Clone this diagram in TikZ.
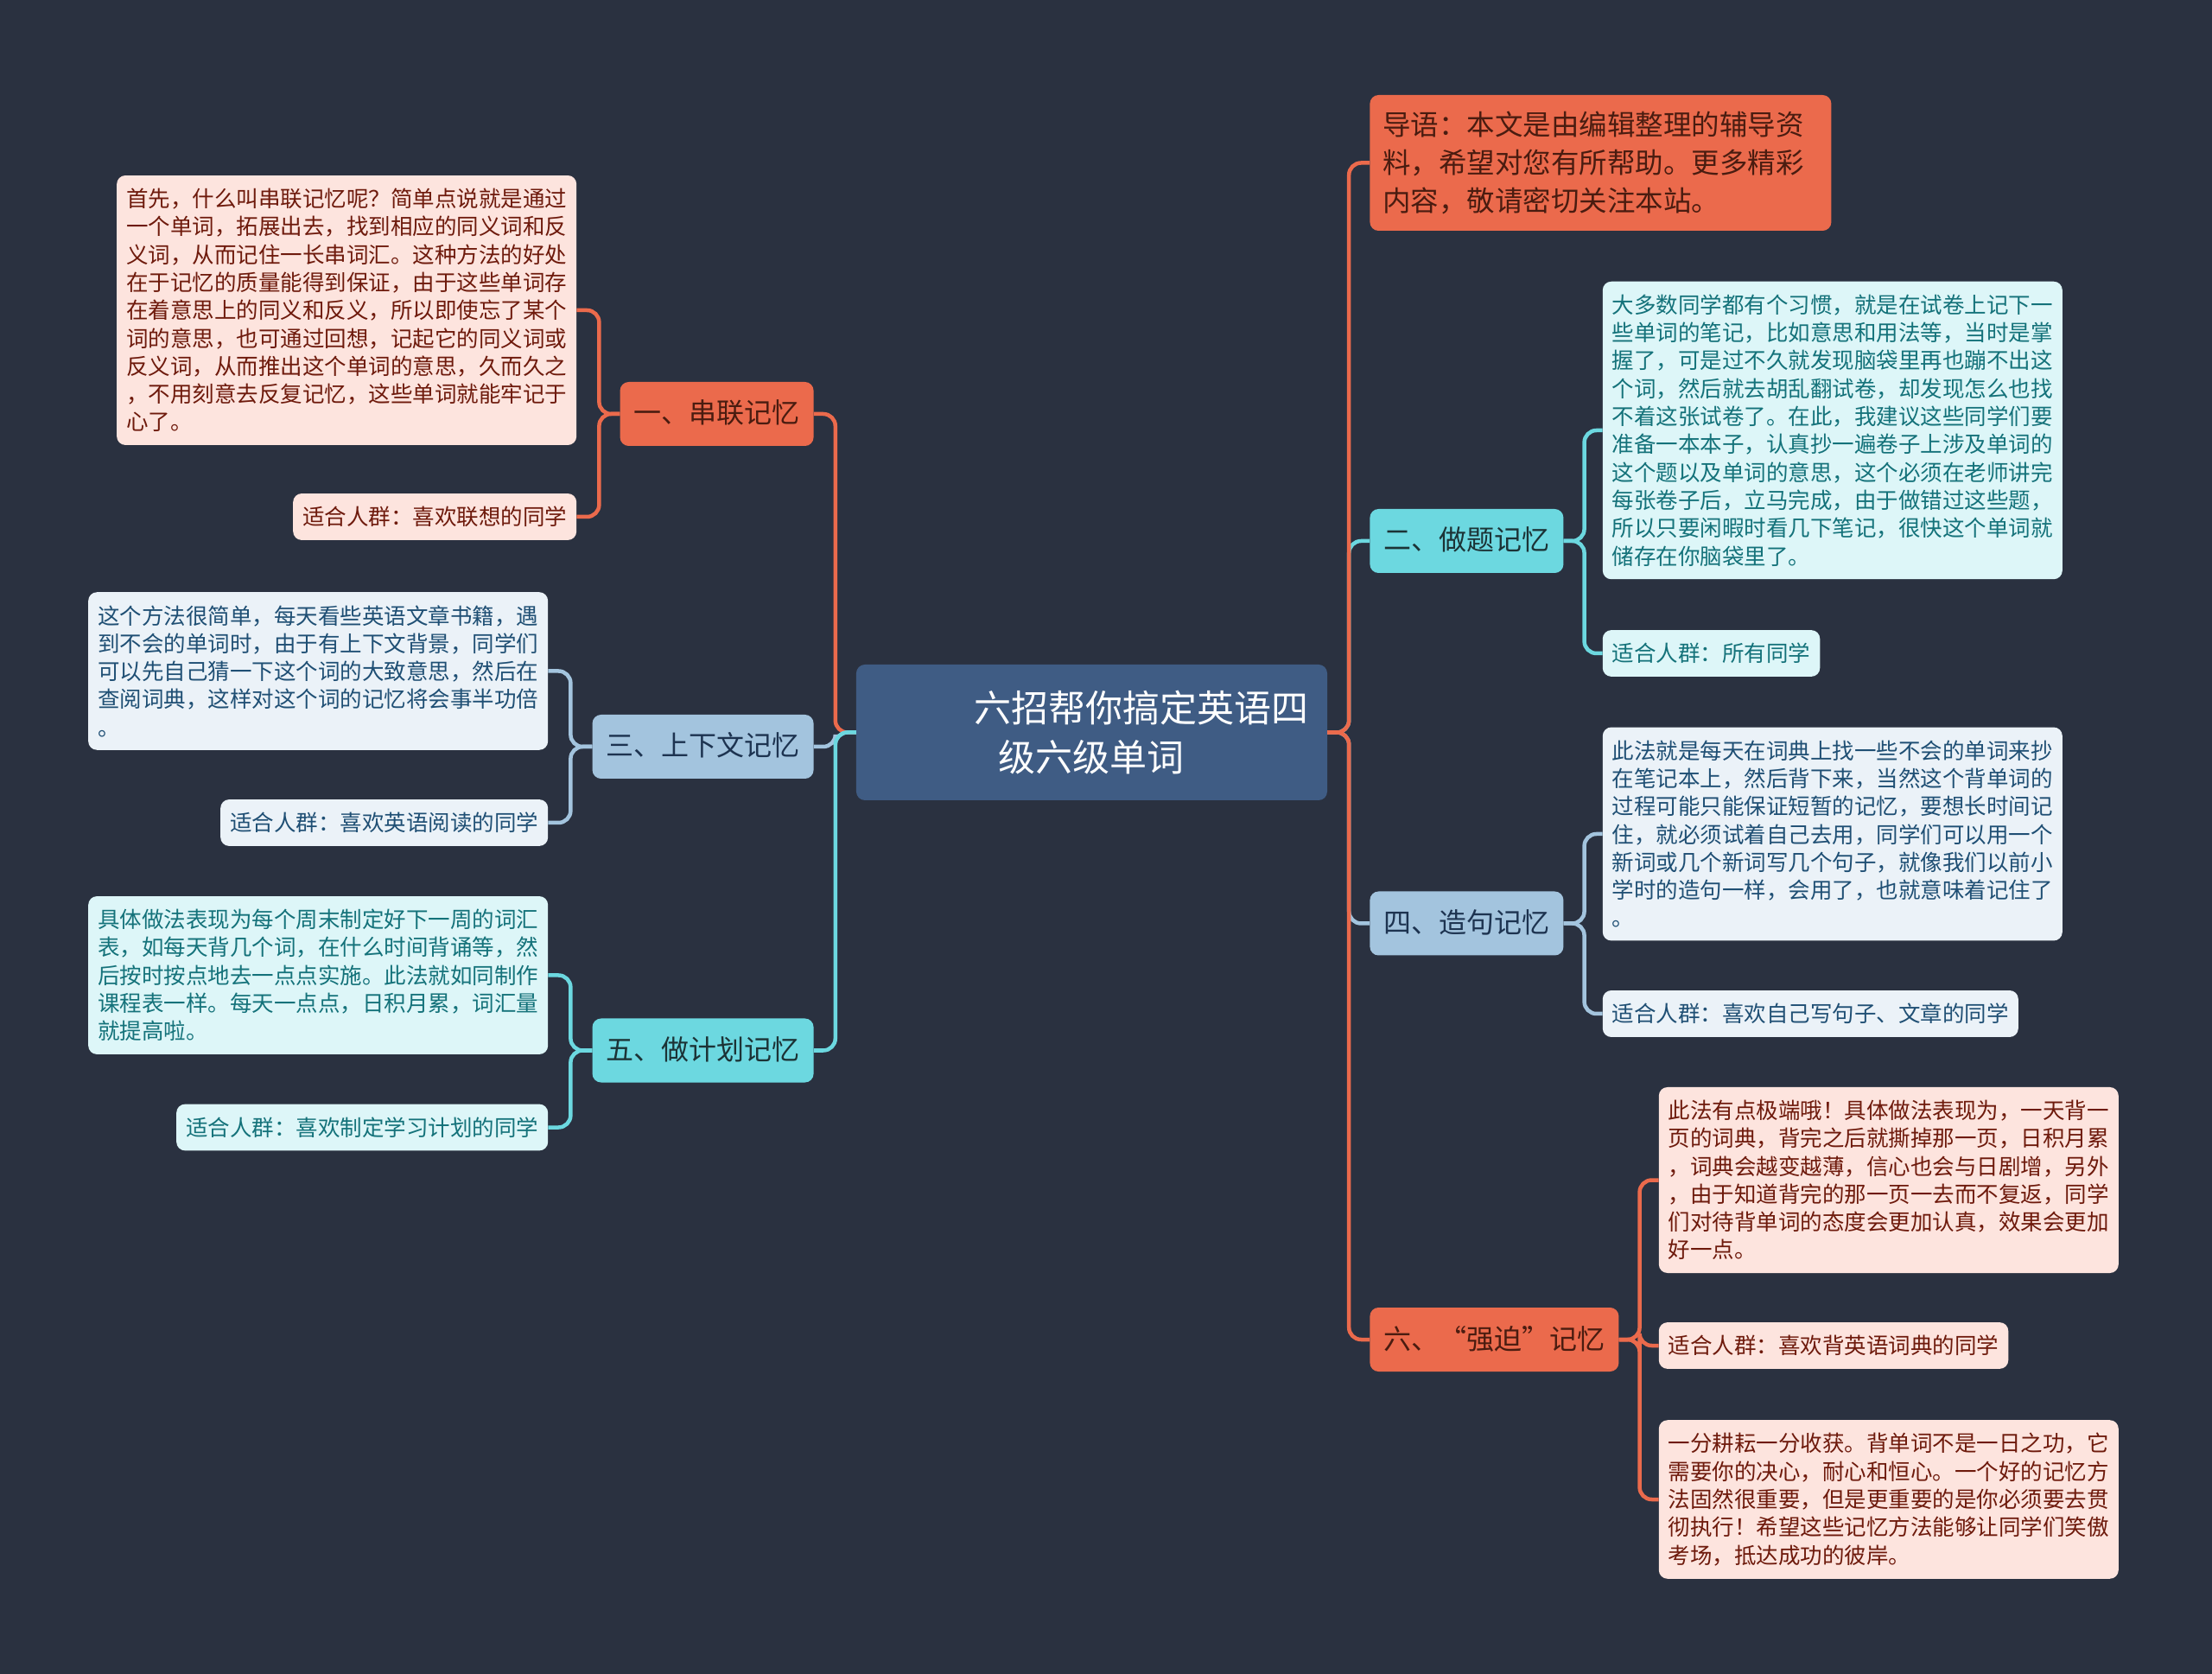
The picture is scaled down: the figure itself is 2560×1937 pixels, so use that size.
\documentclass[tikz,border=0pt]{standalone}
\usepackage{fontspec}
\setmainfont{Noto Sans CJK SC}
\usetikzlibrary{positioning}

\definecolor{bgdark}{HTML}{2A3140}
\definecolor{rootblue}{HTML}{3F5C84}
\definecolor{mainorange}{HTML}{EB6A4C}
\definecolor{mainsteel}{HTML}{A3C4DE}
\definecolor{maincyan}{HTML}{6CD8E0}
\definecolor{palepink}{HTML}{FDE4DE}
\definecolor{paleblue}{HTML}{EBF2F8}
\definecolor{palecyan}{HTML}{DDF6F8}
\definecolor{txtbrown}{HTML}{4A1C10}
\definecolor{txtred}{HTML}{6E1A0C}
\definecolor{txtnavy}{HTML}{1D3350}
\definecolor{txtblue}{HTML}{1F4F74}
\definecolor{txtdark}{HTML}{1C3336}
\definecolor{txtteal}{HTML}{14727A}

\tikzstyle{rootbox} = [rectangle, rounded corners=10pt, fill=rootblue, text=white, align=center, minimum width=545pt, minimum height=157pt, font=\fontsize{43}{57}\selectfont]
\tikzstyle{introbox} = [rectangle, rounded corners=10pt, fill=mainorange, text=txtbrown, align=left, text width=504pt, inner xsep=15pt, inner ysep=19pt, font=\fontsize{32.5}{44}\selectfont]
\tikzstyle{topic} = [rectangle, rounded corners=10pt, inner xsep=16pt, text height=27pt, text depth=5pt, minimum height=74pt, font=\fontsize{32}{40}\selectfont]
\tikzstyle{orangetopic} = [topic, fill=mainorange, text=txtbrown]
\tikzstyle{steeltopic} = [topic, fill=mainsteel, text=txtnavy]
\tikzstyle{cyantopic} = [topic, fill=maincyan, text=txtdark]
\tikzstyle{leaf} = [rectangle, rounded corners=10pt, align=left, inner xsep=11pt, inner ysep=15pt, font=\fontsize{25.5}{32.3}\selectfont]
\tikzstyle{pinkleaf} = [leaf, fill=palepink, text=txtred]
\tikzstyle{blueleaf} = [leaf, fill=paleblue, text=txtblue]
\tikzstyle{cyanleaf} = [leaf, fill=palecyan, text=txtteal]
\tikzstyle{orangelink} = [line width=4.5pt, draw=mainorange, rounded corners=14pt]
\tikzstyle{steellink} = [line width=4.5pt, draw=mainsteel, rounded corners=14pt]
\tikzstyle{cyanlink} = [line width=4.5pt, draw=maincyan, rounded corners=14pt]

\begin{document}
\begin{tikzpicture}[x=1pt, y=1pt]

% fundo
\fill [bgdark] (-1263.5,-1089.5) rectangle (1296.5,847.5);
\useasboundingbox (-1263.5,-1089.5) rectangle (1296.5,847.5);

% Nós
\node (root) [rootbox] {\hspace*{116pt}六招帮你搞定英语四\\级六级单词};

% lado esquerdo
\node (one) [orangetopic, left=49pt of root, yshift=368.5pt] {一、串联记忆};
\node (three) [steeltopic, left=49pt of root, yshift=-16.5pt] {三、上下文记忆};
\node (five) [cyantopic, left=49pt of root, yshift=-368pt] {五、做计划记忆};

\node (onedesc) [pinkleaf, left=50pt of one, yshift=120pt] {首先，什么叫串联记忆呢？简单点说就是通过\\一个单词，拓展出去，找到相应的同义词和反\\义词，从而记住一长串词汇。这种方法的好处\\在于记忆的质量能得到保证，由于这些单词存\\在着意思上的同义和反义，所以即使忘了某个\\词的意思，也可通过回想，记起它的同义词或\\反义词，从而推出这个单词的意思，久而久之\\，不用刻意去反复记忆，这些单词就能牢记于\\心了。};
\node (oneaud) [pinkleaf, left=50pt of one, yshift=-119pt] {适合人群：喜欢联想的同学};
\node (threedesc) [blueleaf, left=51pt of three, yshift=87.5pt] {这个方法很简单，每天看些英语文章书籍，遇\\到不会的单词时，由于有上下文背景，同学们\\可以先自己猜一下这个词的大致意思，然后在\\查阅词典，这样对这个词的记忆将会事半功倍\\。};
\node (threeaud) [blueleaf, left=51pt of three, yshift=-88pt] {适合人群：喜欢英语阅读的同学};
\node (fivedesc) [cyanleaf, left=51pt of five, yshift=87pt] {具体做法表现为每个周末制定好下一周的词汇\\表，如每天背几个词，在什么时间背诵等，然\\后按时按点地去一点点实施。此法就如同制作\\课程表一样。每天一点点，日积月累，词汇量\\就提高啦。};
\node (fiveaud) [cyanleaf, left=51pt of five, yshift=-89pt] {适合人群：喜欢制定学习计划的同学};

% lado direito
\node (intro) [introbox, right=49pt of root, yshift=659pt] {导语：本文是由编辑整理的辅导资\\料，希望对您有所帮助。更多精彩\\内容，敬请密切关注本站。};
\node (two) [cyantopic, right=49pt of root, yshift=221.5pt] {二、做题记忆};
\node (four) [steeltopic, right=49pt of root, yshift=-221pt] {四、造句记忆};
\node (six) [orangetopic, right=49pt of root, yshift=-702.5pt] {六、“强迫”记忆};

\node (twodesc) [cyanleaf, right=45pt of two, yshift=128pt] {大多数同学都有个习惯，就是在试卷上记下一\\些单词的笔记，比如意思和用法等，当时是掌\\握了，可是过不久就发现脑袋里再也蹦不出这\\个词，然后就去胡乱翻试卷，却发现怎么也找\\不着这张试卷了。在此，我建议这些同学们要\\准备一本本子，认真抄一遍卷子上涉及单词的\\这个题以及单词的意思，这个必须在老师讲完\\每张卷子后，立马完成，由于做错过这些题，\\所以只要闲暇时看几下笔记，很快这个单词就\\储存在你脑袋里了。};
\node (twoaud) [cyanleaf, right=45pt of two, yshift=-130pt] {适合人群：所有同学};
\node (fourdesc) [blueleaf, right=45pt of four, yshift=103.5pt] {此法就是每天在词典上找一些不会的单词来抄\\在笔记本上，然后背下来，当然这个背单词的\\过程可能只能保证短暂的记忆，要想长时间记\\住，就必须试着自己去用，同学们可以用一个\\新词或几个新词写几个句子，就像我们以前小\\学时的造句一样，会用了，也就意味着记住了\\。};
\node (fouraud) [blueleaf, right=45pt of four, yshift=-104.5pt] {适合人群：喜欢自己写句子、文章的同学};
\node (sixdesc) [pinkleaf, right=46pt of six, yshift=184.5pt] {此法有点极端哦！具体做法表现为，一天背一\\页的词典，背完之后就撕掉那一页，日积月累\\，词典会越变越薄，信心也会与日剧增，另外\\，由于知道背完的那一页一去而不复返，同学\\们对待背单词的态度会更加认真，效果会更加\\好一点。};
\node (sixaud) [pinkleaf, right=46pt of six, yshift=-7pt] {适合人群：喜欢背英语词典的同学};
\node (sixend) [pinkleaf, right=46pt of six, yshift=-185pt] {一分耕耘一分收获。背单词不是一日之功，它\\需要你的决心，耐心和恒心。一个好的记忆方\\法固然很重要，但是更重要的是你必须要去贯\\彻执行！希望这些记忆方法能够让同学们笑傲\\考场，抵达成功的彼岸。};

% Conexões
\draw [orangelink] (root.west) -- ++(-24,0) |- (one.east);
\draw [steellink] (root.west) -- ++(-24,0) |- (three.east);
\draw [cyanlink] (root.west) -- ++(-24,0) |- (five.east);

\draw [cyanlink] (root.east) -- ++(25,0) |- (two.west);
\draw [steellink] (root.east) -- ++(25,0) |- (four.west);
\draw [orangelink] (root.east) -- ++(25,0) |- (intro.west);
\draw [orangelink] (root.east) -- ++(25,0) |- (six.west);

\draw [orangelink] (one.west) -- ++(-24,0) |- (onedesc.east);
\draw [orangelink] (one.west) -- ++(-24,0) |- (oneaud.east);
\draw [steellink] (three.west) -- ++(-25,0) |- (threedesc.east);
\draw [steellink] (three.west) -- ++(-25,0) |- (threeaud.east);
\draw [cyanlink] (five.west) -- ++(-25,0) |- (fivedesc.east);
\draw [cyanlink] (five.west) -- ++(-25,0) |- (fiveaud.east);

\draw [cyanlink] (two.east) -- ++(24,0) |- (twodesc.west);
\draw [cyanlink] (two.east) -- ++(24,0) |- (twoaud.west);
\draw [steellink] (four.east) -- ++(24,0) |- (fourdesc.west);
\draw [steellink] (four.east) -- ++(24,0) |- (fouraud.west);
\draw [orangelink] (six.east) -- ++(24,0) |- (sixdesc.west);
\draw [orangelink] (six.east) -- ++(24,0) |- (sixaud.west);
\draw [orangelink] (six.east) -- ++(24,0) |- (sixend.west);

\end{tikzpicture}
\end{document}
